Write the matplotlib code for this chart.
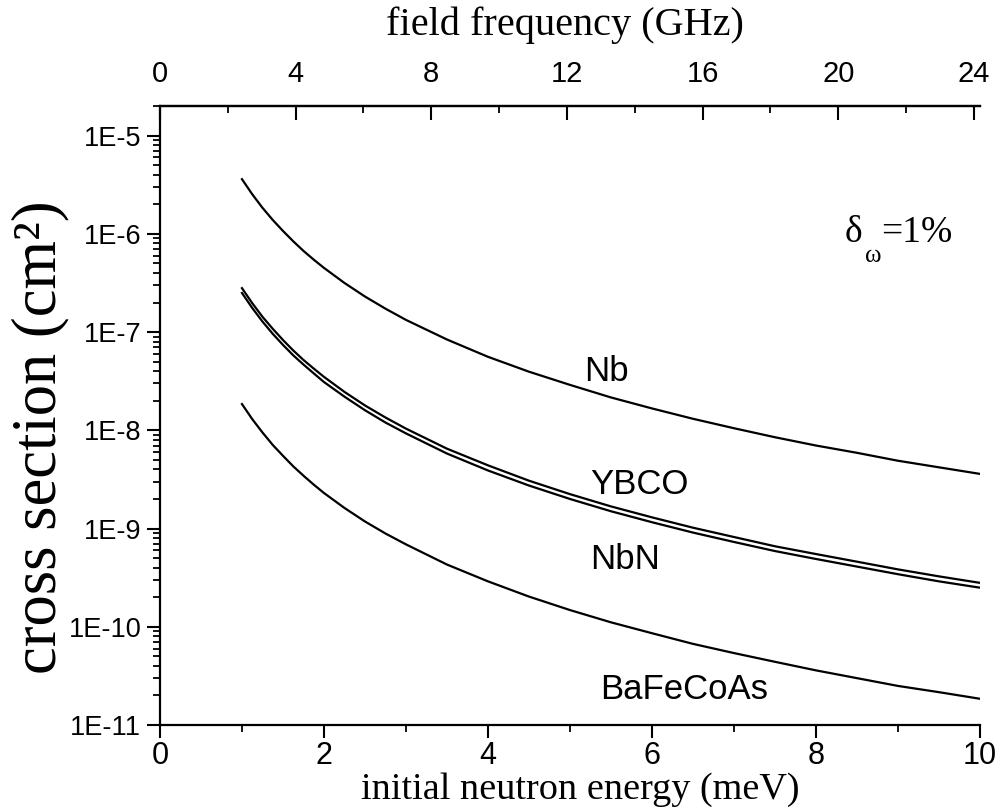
import numpy as np
import matplotlib
matplotlib.use("Agg")
import matplotlib.pyplot as plt
from matplotlib.ticker import FuncFormatter, MultipleLocator, LogLocator

# data (cross section in cm^2 vs initial neutron energy in meV)
energy = [1, 1.125, 1.25, 1.375, 1.5, 1.625, 1.75, 1.875, 2, 2.25, 2.5, 2.75, 3, 3.5, 4, 4.5, 5,
          5.5, 6, 6.5, 7, 7.5, 8, 8.5, 9, 9.5, 10]
nb = [3.6e-6, 2.53e-6, 1.84e-6, 1.385e-6, 1.07e-6, 8.4e-7, 6.7e-7, 5.46e-7, 4.5e-7, 3.16e-7, 2.3e-7,
      1.73e-7, 1.33e-7, 8.4e-8, 5.6e-8, 3.95e-8, 2.9e-8,
      2.16e-8, 1.67e-8, 1.31e-8, 1.05e-8, 8.5e-9, 7.0e-9, 5.9e-9, 4.9e-9, 4.2e-9, 3.6e-9]
ybco = [2.8e-7, 1.97e-7, 1.43e-7, 1.08e-7, 8.3e-8, 6.5e-8, 5.2e-8, 4.25e-8, 3.5e-8, 2.46e-8, 1.79e-8,
        1.35e-8, 1.04e-8, 6.5e-9, 4.4e-9, 3.07e-9, 2.24e-9,
        1.68e-9, 1.3e-9, 1.02e-9, 8.2e-10, 6.6e-10, 5.5e-10, 4.6e-10, 3.84e-10, 3.26e-10, 2.8e-10]
nbn = [2.5e-7, 1.76e-7, 1.28e-7, 9.6e-8, 7.4e-8, 5.8e-8, 4.67e-8, 3.8e-8, 3.1e-8, 2.2e-8, 1.6e-8,
       1.2e-8, 9.3e-9, 5.8e-9, 3.9e-9, 2.74e-9, 2.0e-9,
       1.5e-9, 1.16e-9, 9.1e-10, 7.3e-10, 5.9e-10, 4.9e-10, 4.1e-10, 3.43e-10, 2.9e-10, 2.5e-10]
bafecoas = [1.85e-8, 1.30e-8, 9.5e-9, 7.1e-9, 5.5e-9, 4.3e-9, 3.45e-9, 2.8e-9, 2.3e-9, 1.62e-9, 1.18e-9,
            8.9e-10, 6.9e-10, 4.3e-10, 2.9e-10, 2.03e-10, 1.48e-10,
            1.11e-10, 8.6e-11, 6.7e-11, 5.4e-11, 4.4e-11, 3.6e-11, 3.0e-11, 2.5e-11, 2.16e-11, 1.85e-11]

# label name, x (meV), y (cm^2)
labels = [("Nb", 5.45, 4.3e-8), ("YBCO", 5.85, 3.07e-9), ("NbN", 5.67, 5.3e-10), ("BaFeCoAs", 6.39, 2.52e-11)]

GHZ_PER_MEV = 2.418

fig = plt.figure(figsize=(10.03, 8.10), dpi=100)
ax = fig.add_axes([0.1595, 0.1049, 0.8176, 0.7642])

for s in (nb, ybco, nbn, bafecoas):
    ax.plot(energy, s, color='black', lw=1.6)

ax.set_yscale('log')
ax.set_xlim(0, 10)
ax.set_ylim(1e-11, 2.0e-5)

ax.spines['right'].set_visible(False)
for sp in ('left', 'bottom', 'top'):
    ax.spines[sp].set_linewidth(1.6)

ax.xaxis.set_major_locator(MultipleLocator(2))
ax.xaxis.set_minor_locator(MultipleLocator(1))
ax.yaxis.set_major_locator(LogLocator(base=10, numticks=20))
ax.yaxis.set_minor_locator(LogLocator(base=10, subs=np.arange(2, 10), numticks=20))
ax.yaxis.set_major_formatter(FuncFormatter(lambda v, p: "1E%d" % int(round(np.log10(v)))))

ax.tick_params(axis='both', which='major', direction='out', length=9.5, width=1.5)
ax.tick_params(axis='both', which='minor', direction='out', length=5, width=1.3)
ax.tick_params(axis='x', which='both', top=False)
ax.tick_params(axis='y', which='both', right=False)
ax.tick_params(axis='y', labelsize=19.5, pad=4)
ax.tick_params(axis='x', labelsize=22, pad=2)
for t in ax.get_yticklabels():
    t.set_family('Liberation Sans')
for t in ax.get_xticklabels():
    t.set_family('Liberation Sans')

# top axis: field frequency
top = ax.secondary_xaxis('top', functions=(lambda e: e * GHZ_PER_MEV, lambda f: f / GHZ_PER_MEV))
top.xaxis.set_major_locator(MultipleLocator(4))
top.xaxis.set_minor_locator(MultipleLocator(2))
top.tick_params(which='major', direction='in', length=10, width=1.5, labelsize=21, pad=13)
top.tick_params(which='minor', direction='in', length=5, width=1.3)
top.spines['top'].set_linewidth(1.6)
for t in top.get_xticklabels():
    t.set_family('Liberation Sans')

# axis titles
fig.text(565 / 1003, 1 - 25 / 810, 'field frequency (GHz)', family='Liberation Serif',
         fontsize=29, ha='center', va='center')
fig.text(580 / 1003, 1 - 799 / 810, 'initial neutron energy (meV)', family='Liberation Serif',
         fontsize=27.5, ha='center', va='baseline')
fig.text(40 / 1003, 1 - 437 / 810, 'cross section (cm²)', family='Liberation Serif',
         fontsize=45, ha='center', va='center', rotation=90)

for name, x, y in labels:
    ax.text(x, y, name, family='Liberation Sans', fontsize=25, ha='center', va='center_baseline')

# delta_omega = 1 %
fig.text(845 / 1003, 1 - 242 / 810, 'δ', family='Liberation Serif', fontsize=27, va='baseline')
fig.text(865 / 1003, 1 - 262 / 810, 'ω', family='Liberation Serif', fontsize=18, va='baseline')
fig.text(881 / 1003, 1 - 242 / 810, '=1%', family='Liberation Serif', fontsize=27, va='baseline')

fig.savefig('out.png', dpi=100)
